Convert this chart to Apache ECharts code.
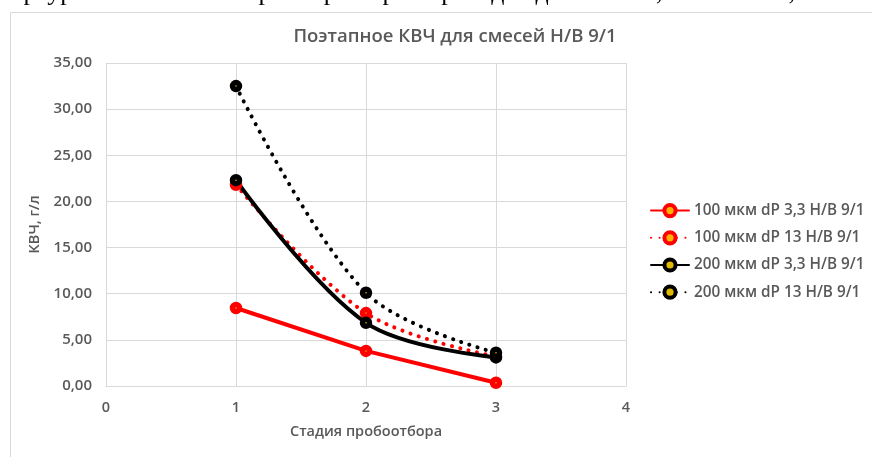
<!DOCTYPE html>
<html><head><meta charset="utf-8">
<script src="https://cdn.jsdelivr.net/npm/echarts@6/dist/echarts.min.js"></script>
<style>html,body{margin:0;padding:0;background:#fff;}#c{width:872px;height:457px;}</style>
</head><body><div id="c"></div>
<script>
const stages = [1, 2, 3];
const s100_33 = [8.45, 3.8, 0.35];
const s100_13 = [21.8, 7.9, 3.2];
const s200_33 = [22.3, 6.85, 3.1];
const s200_13 = [32.5, 10.1, 3.6];
const seriesNames = ['100 мкм dP 3,3 Н/В 9/1','100 мкм dP 13 Н/В 9/1','200 мкм dP 3,3 Н/В 9/1','200 мкм dP 13 Н/В 9/1'];
const titleText = 'Поэтапное КВЧ для смесей Н/В 9/1';
const xName = 'Стадия пробоотбора';
const yName = 'КВЧ, г/л';
const topText = 'пертурах 100 и 200 микрометров при перепадах давления 0,33 МПа и 1,3 МПа';

const F = '"Open Sans", "Noto Sans", sans-serif';
const TC = '#595959';
const pair = a => stages.map((s,i)=>[s,a[i]]);
function mk(name, data, color, dotted, smooth){
  return {
    name, type:'line', data:pair(data), smooth: smooth ? 0.35 : false,
    symbol:'circle', symbolSize:7,
    itemStyle:{color: color==='#000' ? '#e0b800' : '#ffb000', borderColor:color, borderWidth:5.5},
    lineStyle:{color, width:4, type: dotted ? [0.1,8.5] : 'solid', cap:'round'},
    z: 2
  };
}
const chart = echarts.init(document.getElementById('c'), null, {renderer:'canvas'});
chart.setOption({
  animation:false,
  graphic:[
    {type:'rect', shape:{x:10.5,y:12.5,width:900,height:500}, style:{fill:'#fff', stroke:'#d9d9d9', lineWidth:1}, z:-10},
    {type:'text', x:-2, y:6.5, style:{text:topText, font:'26px "Liberation Serif", serif', fill:'#000', verticalAlign:'bottom'}, z:-5}
  ],
  title:{text:titleText, left:450, top:22, textAlign:'center',
    textStyle:{fontFamily:F, fontSize:18.5, fontWeight:600, color:TC}},
  grid:{left:106, right:246, top:63, bottom:71, containLabel:false},
  legend:{
    orient:'vertical', left:645, top:198, itemGap:12, itemWidth:38, itemHeight:14,
    itemStyle:{borderWidth:4},
    textStyle:{fontFamily:F, fontSize:15.3, fontWeight:600, color:TC},
    data:seriesNames
  },
  xAxis:{type:'value', min:0, max:4, interval:1,
    name:xName, nameLocation:'middle', nameGap:38,
    nameTextStyle:{fontFamily:F, fontSize:14.5, fontWeight:600, color:TC},
    axisLine:{show:true, lineStyle:{color:'#d9d9d9'}}, axisTick:{show:false},
    axisLabel:{fontFamily:F, fontSize:14.5, fontWeight:600, color:TC, margin:14},
    splitLine:{show:true, lineStyle:{color:'#d9d9d9', width:1}}},
  yAxis:{type:'value', min:0, max:35, interval:5,
    name:yName, nameLocation:'middle', nameGap:57, nameRotate:90,
    nameTextStyle:{fontFamily:F, fontSize:14.5, fontWeight:600, color:TC},
    axisLine:{show:false}, axisTick:{show:false},
    axisLabel:{fontFamily:F, fontSize:15, fontWeight:600, color:TC, margin:14,
      formatter:v=>v.toFixed(2).replace('.',',')},
    splitLine:{show:true, lineStyle:{color:'#d9d9d9', width:1}}},
  series:[
    mk(seriesNames[0], s100_33, '#ff0000', false, false),
    mk(seriesNames[1], s100_13, '#ff0000', true, true),
    mk(seriesNames[2], s200_33, '#000', false, true),
    mk(seriesNames[3], s200_13, '#000', true, true)
  ]
});
</script></body></html>
